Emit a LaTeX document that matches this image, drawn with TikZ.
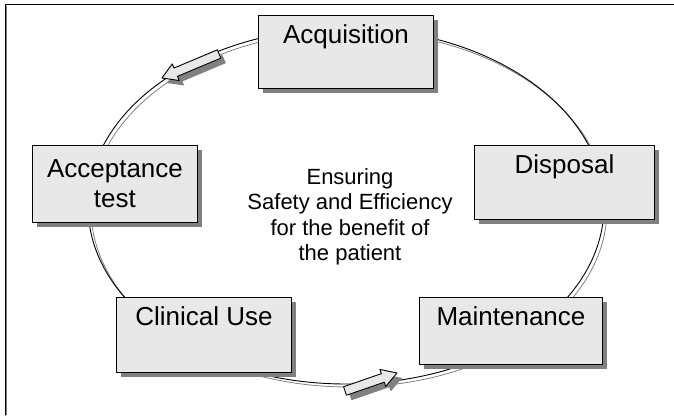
\documentclass[tikz,border=0pt]{standalone}
\usepackage{fontspec}
\setmainfont{Liberation Sans}
\usetikzlibrary{shadows}

\begin{document}
\begin{tikzpicture}[line cap=round,line join=round,x=1pt,y=1pt,
    stage/.style={draw=black,line width=0.9pt,fill=black!9,inner xsep=0pt,inner ysep=9pt,
        anchor=north west,font=\fontsize{26}{30}\selectfont,
        drop shadow={shadow xshift=5pt,shadow yshift=-5pt,fill=black!50,opacity=1}},
    toptext/.style={text height=19pt,text depth=#1},
    pics/blockarrow/.style={code={
        \path[pic actions] (-#1,-4.5) -- (#1-15,-4.5) -- (#1-15,-9) -- (#1,0)
            -- (#1-15,9) -- (#1-15,4.5) -- (-#1,4.5) -- cycle;}}]
        \useasboundingbox (0,0) rectangle (674,415);
        % frame
        \draw[color=black!50,line width=0.8pt] (6.5,0) -- (6.5,409);
        \draw[color=black,line width=1pt] (5,0) -- (5,410) -- (674,410);
        % cycle
        \draw[color=black!50,line width=0.8pt] (349,206) ellipse (258 and 178);
        \draw[color=black,line width=0.9pt] (346,209) ellipse (258 and 178);
        % arrows along the cycle
        \pic[fill=black!50,rotate=202.8] at (195.5,344) {blockarrow=31};
        \pic[draw=black,line width=0.9pt,fill=black!9,rotate=202.8] at (190.5,349) {blockarrow=31};
        \pic[fill=black!50,rotate=19.1] at (376,28) {blockarrow=27.5};
        \pic[draw=black,line width=0.9pt,fill=black!9,rotate=19.1] at (371,33) {blockarrow=27.5};
        % stages
        \node[stage,toptext=36pt,minimum width=175pt] (acquisition) at (258,400) {Acquisition};
        \node[stage,toptext=37pt,minimum width=180pt] (disposal) at (474,270) {Disposal};
        \node[stage,toptext=30pt,minimum width=183pt] (maintenance) at (419,118) {Maintenance};
        \node[stage,toptext=38pt,minimum width=175pt] (clinical) at (116,118) {Clinical Use};
        \node[stage,align=center,minimum width=165pt,minimum height=77pt] (acceptance) at (32,270) {Acceptance\\test};
        % centre text
        \node[align=center,font=\fontsize{22}{25.5}\selectfont] (goal) at (350,198)
            {Ensuring\\Safety and Efficiency\\for the benefit of\\the patient};
\end{tikzpicture}
\end{document}
